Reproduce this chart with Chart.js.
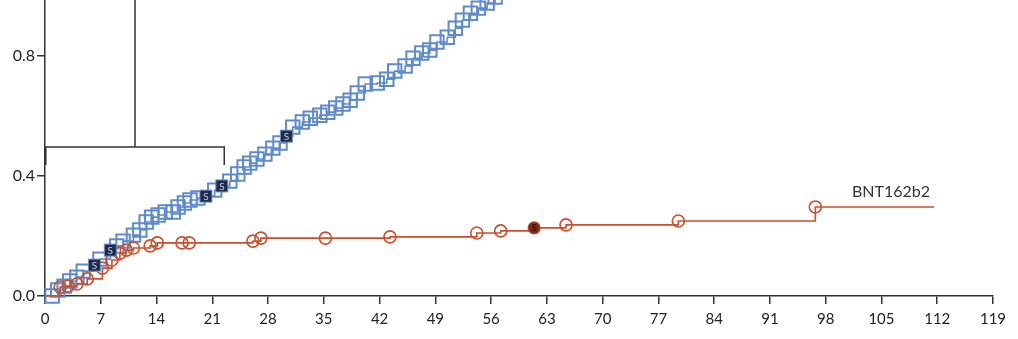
<!DOCTYPE html>
<html>
<head>
<meta charset="utf-8">
<script src="https://cdn.jsdelivr.net/npm/chart.js@4"></script>
<style>
  html, body { margin: 0; padding: 0; background: #fff; }
  #wrap { width: 1018px; height: 339px; }
</style>
</head>
<body>
<div id="wrap"><canvas id="chart"></canvas></div>
<script>
const xTicks = [0, 7, 14, 21, 28, 35, 42, 49, 56, 63, 70, 77, 84, 91, 98, 105, 112, 119];
const yTicks = [0, 0.4, 0.8];

// placebo-like curve (blue squares)
const blueDays = [0.9, 1.6, 2.4, 3.1, 4.0, 4.8, 6.2, 6.9, 8.2, 9.0, 9.8, 11.1, 11.9, 12.7, 13.4, 14.2, 15.1, 16.1, 16.7, 17.5,
  18.2, 19.2, 20.2, 21.3, 22.2, 23.2, 24.2, 25.0, 25.7, 26.6, 27.6, 28.6, 29.5, 30.3, 31.1, 32.3, 33.3, 34.5, 35.5, 36.5,
  37.4, 38.3, 39.2, 40.2, 41.7, 42.9, 43.9, 45.2, 46.2, 47.3, 48.3, 49.2, 50.5, 51.5, 52.4, 53.4, 54.4, 55.5, 56.5, 57.5];
const blueValues = [0.000, 0.020, 0.033, 0.050, 0.063, 0.083, 0.103, 0.123, 0.153, 0.167, 0.183, 0.203, 0.220, 0.247, 0.263, 0.270, 0.280, 0.280, 0.297, 0.310,
  0.320, 0.327, 0.333, 0.353, 0.367, 0.383, 0.407, 0.430, 0.443, 0.457, 0.473, 0.493, 0.510, 0.533, 0.563, 0.580, 0.593, 0.603, 0.613, 0.627,
  0.640, 0.653, 0.677, 0.707, 0.710, 0.723, 0.750, 0.767, 0.793, 0.810, 0.820, 0.847, 0.863, 0.893, 0.920, 0.943, 0.960, 0.977, 0.997, 1.013];
const blueSIdx = [6, 8, 22, 24, 33];

// BNT162b2 curve (red circles)
const redDays = [0, 1.9, 2.9, 4.0, 5.3, 7.2, 8.4, 9.4, 10.2, 11.1, 13.2, 14.1, 17.2, 18.1, 26.1, 27.1, 35.2, 43.3, 54.2, 57.2,
  61.4, 65.4, 79.5, 96.7, 111.6];
const redValues = [0, 0.030, 0.033, 0.040, 0.057, 0.093, 0.120, 0.143, 0.153, 0.160, 0.167, 0.177, 0.177, 0.177, 0.183, 0.193, 0.193, 0.197, 0.210, 0.217,
  0.227, 0.237, 0.250, 0.297, 0.297];
const redSIdx = [20];
const redLabel = 'BNT162b2';
const redLabelDay = 101.3;
const redLabelValue = 0.33;

// zoom bracket
const bracketDays = [0.1, 0.1, 22.5, 22.5];
const bracketValues = [0.437, 0.497, 0.497, 0.437];
const stemDays = [11.3, 11.3];
const stemValues = [0.497, 1.05];

const BLUE = '#5f8acb';
const RED = '#c9502f';
const INK = '#333';
const FONT = 'Lato, "Open Sans", sans-serif';

const toXY = (xs, ys) => xs.map((x, i) => ({ x: x, y: ys[i] }));

const marksPlugin = {
  id: 'marks',
  afterDatasetsDraw(chart) {
    const ctx = chart.ctx;
    ctx.save();
    const blueMeta = chart.getDatasetMeta(1);
    blueSIdx.forEach(i => {
      const p = blueMeta.data[i];
      ctx.fillStyle = '#1e2c48';
      ctx.fillRect(p.x - 6, p.y - 6, 12, 12);
      ctx.strokeStyle = '#6d90cc';
      ctx.lineWidth = 1;
      ctx.strokeRect(p.x - 6, p.y - 6, 12, 12);
      ctx.fillStyle = '#c9d2e4';
      ctx.font = '10px ' + FONT;
      ctx.textAlign = 'center';
      ctx.textBaseline = 'middle';
      ctx.fillText('S', p.x, p.y + 0.5);
    });
    const redMeta = chart.getDatasetMeta(0);
    redSIdx.forEach(i => {
      const p = redMeta.data[i];
      ctx.beginPath();
      ctx.arc(p.x, p.y, 6, 0, Math.PI * 2);
      ctx.fillStyle = '#7c2a1d';
      ctx.fill();
      ctx.strokeStyle = '#b4492e';
      ctx.lineWidth = 1.2;
      ctx.stroke();
      ctx.fillStyle = '#2b0e08';
      ctx.font = 'bold 9px ' + FONT;
      ctx.textAlign = 'center';
      ctx.textBaseline = 'middle';
      ctx.fillText('S', p.x, p.y + 0.5);
    });
    const xs = chart.scales.x, ys = chart.scales.y;
    ctx.fillStyle = INK;
    ctx.font = '16px ' + FONT;
    ctx.textAlign = 'left';
    ctx.textBaseline = 'alphabetic';
    ctx.fillText(redLabel, xs.getPixelForValue(redLabelDay), ys.getPixelForValue(redLabelValue));
    ctx.restore();
  }
};

new Chart(document.getElementById('chart'), {
  type: 'line',
  data: {
    datasets: [
      {
        label: redLabel,
        data: toXY(redDays, redValues),
        stepped: true,
        borderColor: RED,
        borderWidth: 1.6,
        pointStyle: 'circle',
        pointRadius: c => (c.dataIndex === 0 || c.dataIndex === redDays.length - 1 || redSIdx.includes(c.dataIndex)) ? 0 : 6,
        pointBorderColor: RED,
        pointBorderWidth: 1.6,
        pointBackgroundColor: 'rgba(0,0,0,0)',
        clip: false
      },
      {
        label: 'Placebo',
        data: toXY(blueDays, blueValues),
        stepped: true,
        borderColor: BLUE,
        borderWidth: 1.6,
        pointStyle: 'rect',
        pointRadius: c => blueSIdx.includes(c.dataIndex) ? 0 : 9.5,
        pointBorderColor: BLUE,
        pointBorderWidth: 2,
        pointBackgroundColor: 'rgba(0,0,0,0)',
        clip: false
      },
      {
        data: toXY(bracketDays, bracketValues),
        borderColor: INK,
        borderWidth: 1.5,
        pointRadius: 0,
        clip: false
      },
      {
        data: toXY(stemDays, stemValues),
        borderColor: INK,
        borderWidth: 1.5,
        pointRadius: 0,
        clip: false
      }
    ]
  },
  options: {
    responsive: true,
    maintainAspectRatio: false,
    animation: false,
    layout: { autoPadding: false, padding: { left: 0, right: 25, top: 0, bottom: 0 } },
    plugins: { legend: { display: false }, tooltip: { enabled: false } },
    scales: {
      x: {
        type: 'linear',
        min: 0,
        max: 119,
        afterBuildTicks: s => { s.ticks = xTicks.map(v => ({ value: v })); },
        afterFit: s => { s.height = 43; s.paddingLeft = 0; s.paddingRight = 0; },
        ticks: { color: '#222', font: { family: FONT, size: 15 }, padding: 6, maxRotation: 0 },
        grid: { drawOnChartArea: false, drawTicks: true, tickLength: 8, color: INK, lineWidth: 1.5 },
        border: { color: INK, width: 1.5 }
      },
      y: {
        min: 0,
        max: 0.987,
        afterBuildTicks: s => { s.ticks = yTicks.map(v => ({ value: v })); },
        afterFit: s => { s.width = 45; s.paddingTop = 0; s.paddingBottom = 0; },
        ticks: { color: '#222', font: { family: FONT, size: 16 }, padding: 2, callback: v => v.toFixed(1) },
        grid: { drawOnChartArea: false, drawTicks: true, tickLength: 8, color: INK, lineWidth: 1.5 },
        border: { color: INK, width: 1.5 }
      }
    }
  },
  plugins: [marksPlugin]
});
</script>
</body>
</html>
